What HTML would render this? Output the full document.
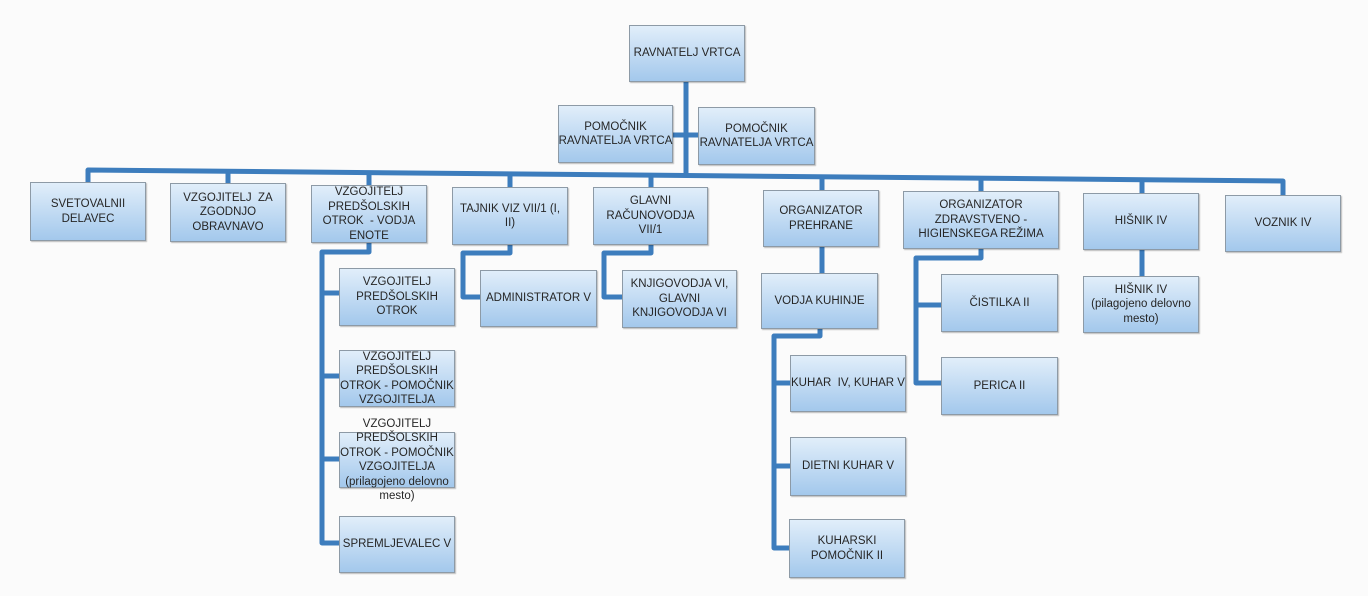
<!DOCTYPE html>
<html><head><meta charset="utf-8"><style>
body{margin:0;width:1368px;height:596px;background:#fbfbfb;position:relative;overflow:hidden;font-family:"Liberation Sans",sans-serif;}
svg{position:absolute;left:0;top:0}
.b{position:absolute;box-sizing:border-box;border:1px solid #8d9aa6;background:linear-gradient(#e1eefa,#a3c8ec);display:flex;align-items:center;justify-content:center;text-align:center;font-size:11.5px;line-height:14.5px;color:#262626;box-shadow:1px 1px 1px rgba(0,0,0,.25);}
.o{overflow:visible}
.n{white-space:nowrap}
</style></head><body>
<svg width="1368" height="596" fill="none" stroke="#3d7dbd" stroke-width="5" stroke-linejoin="round">
<path d="M686 80 V176"/>
<path d="M672 135 H698"/>
<path d="M88 185 V170 L1283 181 V196"/>
<path d="M228 184 V171"/><path d="M369 186 V172"/><path d="M510 188 V174"/><path d="M651 188 V175"/>
<path d="M822 191 V177"/><path d="M981 192 V178"/><path d="M1142 194 V180"/>
<path d="M369 243 V252 H322 V543 H340"/>
<path d="M322 293 H340"/><path d="M322 376 H340"/><path d="M322 459 H340"/>
<path d="M510 245 V253 H463 V297 H481"/>
<path d="M651 245 V253 H604 V297 H622"/>
<path d="M822 247 V274"/>
<path d="M820 328 V336 H774 V548 H790"/>
<path d="M774 383 H791"/><path d="M774 466 H790"/>
<path d="M981 249 V258 H916 V383 H941"/>
<path d="M916 305 H941"/>
<path d="M1142 250 V277"/>
</svg>

<div class="b" style="left:629px;top:25px;width:116px;height:57px">RAVNATELJ VRTCA</div>
<div class="b n" style="left:558px;top:105px;width:115px;height:58px">POMOČNIK<br>RAVNATELJA VRTCA</div>
<div class="b n" style="left:698px;top:107px;width:117px;height:58px">POMOČNIK<br>RAVNATELJA VRTCA</div>

<div class="b" style="left:30px;top:182px;width:116px;height:59px">SVETOVALNII<br>DELAVEC</div>
<div class="b" style="left:170px;top:183px;width:116px;height:59px">VZGOJITELJ &nbsp;ZA<br>ZGODNJO<br>OBRAVNAVO</div>
<div class="b" style="left:311px;top:185px;width:116px;height:58px">VZGOJITELJ<br>PREDŠOLSKIH<br>OTROK &nbsp;- VODJA<br>ENOTE</div>
<div class="b" style="left:452px;top:187px;width:116px;height:58px">TAJNIK VIZ VII/1 (I,<br>II)</div>
<div class="b" style="left:593px;top:187px;width:115px;height:58px">GLAVNI<br>RAČUNOVODJA<br>VII/1</div>
<div class="b" style="left:763px;top:190px;width:116px;height:57px">ORGANIZATOR<br>PREHRANE</div>
<div class="b" style="left:903px;top:191px;width:156px;height:58px">ORGANIZATOR<br>ZDRAVSTVENO -<br>HIGIENSKEGA REŽIMA</div>
<div class="b" style="left:1083px;top:193px;width:116px;height:57px">HIŠNIK IV</div>
<div class="b" style="left:1225px;top:195px;width:116px;height:57px">VOZNIK IV</div>

<div class="b" style="left:339px;top:268px;width:116px;height:58px">VZGOJITELJ<br>PREDŠOLSKIH<br>OTROK</div>
<div class="b" style="left:339px;top:350px;width:116px;height:57px">VZGOJITELJ<br>PREDŠOLSKIH<br>OTROK - POMOČNIK<br>VZGOJITELJA</div>
<div class="b o" style="left:339px;top:432px;width:116px;height:56px">VZGOJITELJ<br>PREDŠOLSKIH<br>OTROK - POMOČNIK<br>VZGOJITELJA<br>(prilagojeno delovno<br>mesto)</div>
<div class="b" style="left:339px;top:516px;width:116px;height:57px">SPREMLJEVALEC V</div>

<div class="b" style="left:480px;top:270px;width:117px;height:57px">ADMINISTRATOR V</div>
<div class="b" style="left:622px;top:270px;width:115px;height:58px">KNJIGOVODJA VI,<br>GLAVNI<br>KNJIGOVODJA VI</div>

<div class="b" style="left:761px;top:273px;width:117px;height:56px">VODJA KUHINJE</div>
<div class="b" style="left:790px;top:355px;width:116px;height:57px">KUHAR &nbsp;IV, KUHAR V</div>
<div class="b" style="left:790px;top:437px;width:116px;height:59px">DIETNI KUHAR V</div>
<div class="b" style="left:789px;top:519px;width:116px;height:59px">KUHARSKI<br>POMOČNIK II</div>

<div class="b" style="left:941px;top:274px;width:117px;height:58px">ČISTILKA II</div>
<div class="b" style="left:941px;top:357px;width:117px;height:58px">PERICA II</div>
<div class="b" style="left:1083px;top:276px;width:116px;height:57px">HIŠNIK IV<br>(pilagojeno delovno<br>mesto)</div>
</body></html>
